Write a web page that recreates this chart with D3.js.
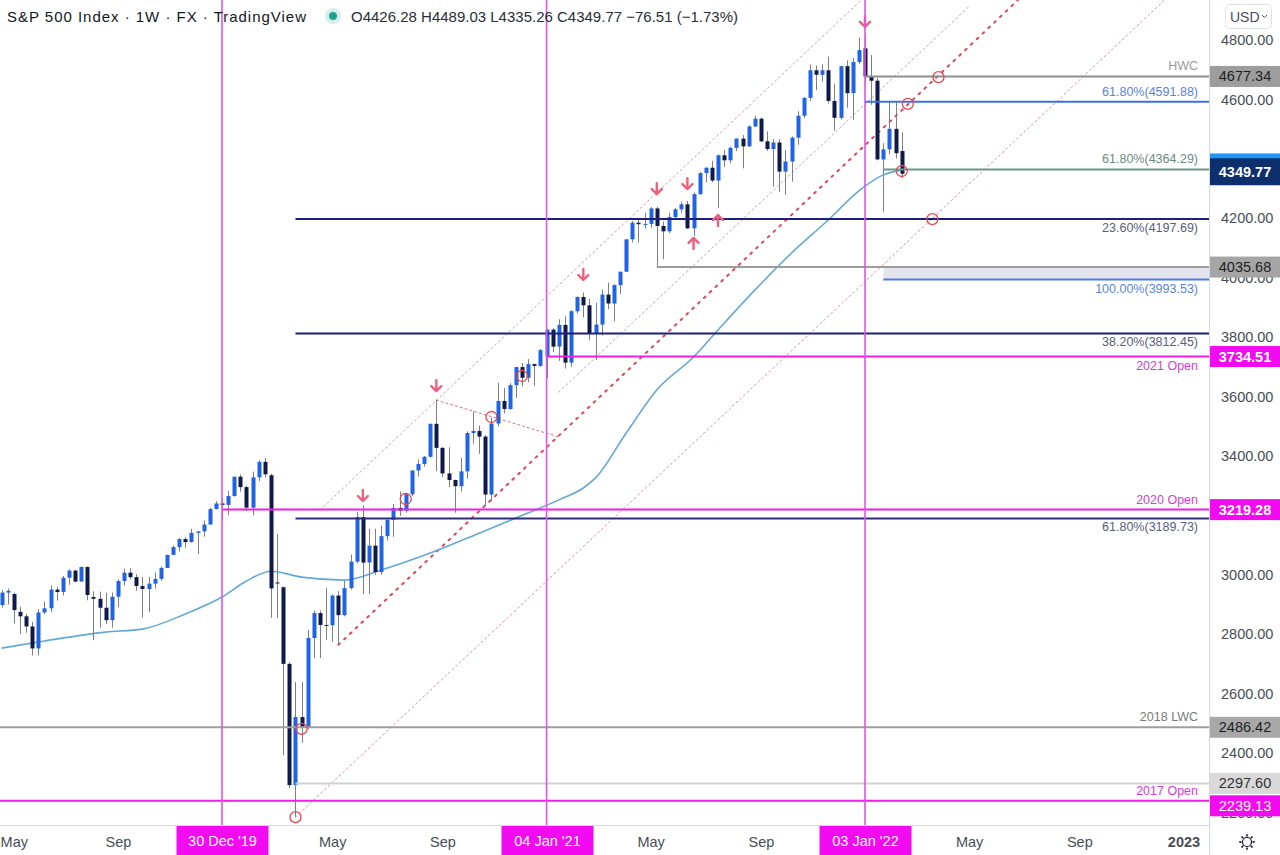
<!DOCTYPE html>
<html><head><meta charset="utf-8"><title>S&P 500 Index weekly</title>
<script src="https://cdn.jsdelivr.net/npm/d3@7/dist/d3.min.js"></script>
<style>
html,body{margin:0;padding:0;background:#fff;}
svg{display:block;font-family:"Liberation Sans",Arial,sans-serif;}
</style></head><body>
<svg id="chart" width="1280" height="855"></svg>
<script>
// ---------------- DATA ----------------
const firstWeek = "2019-04-22";
const lastWeek = "2022-02-14";
const open = [2898,2940,2935,2875,2860,2826,2752,2873,2887,2950,2942,2990,3014,2977,3026,2925,2919,2889,2847,2926,2979,3007,2992,2962,2952,2970,2986,3023,3067,3093,3120,3110,3141,3146,3169,3221,3240,
3235,3265,3330,3295,3226,3328,3380,3335,2974,2958,2700,2292,2521,2488,2787,2871,2831,2830,2930,2864,2955,3044,3194,3041,3098,3009,3130,3185,3225,3216,3271,3351,3373,3397,3508,3427,3341,3319,3298,3348,3477,3484,3465,3270,3509,3585,3558,3638,3699,3663,3709,3703,
3735,3825,3768,3841,3714,3887,3935,3907,3811,3842,3943,3913,3975,4020,4129,4185,4180,4181,4233,4174,4156,4204,4230,4247,4166,4281,4352,4370,4327,4412,4395,4437,4468,4442,4509,4535,4459,4433,4455,4357,4391,4471,4545,4605,4698,4683,4698,4595,4538,4712,4621,4726,
4772,4677,4663,4398,4432,4501,4426.28];
const high = [2949,2954,2940,2892,2868,2841,2884,2910,2964,2960,2996,3018,3017,3028,3028,2944,2943,2939,2940,2985,3021,3022,3002,2992,2993,3008,3028,3067,3098,3124,3127,3154,3147,3183,3226,3248,3258,
3282,3330,3338,3300,3347,3385,3393,3340,3137,2960,2705,2639,2639,2814,2880,2880,2955,2934,2945,2980,3068,3211,3233,3155,3155,3165,3185,3238,3280,3272,3352,3388,3400,3509,3588,3430,3429,3320,3393,3482,3550,3502,3470,3529,3646,3628,3645,3700,3713,3726,3711,3760,
3827,3830,3860,3870,3891,3937,3950,3929,3915,3960,3983,3978,4020,4129,4191,4195,4219,4238,4238,4189,4218,4234,4256,4258,4287,4355,4372,4393,4415,4429,4441,4469,4480,4513,4545,4540,4492,4466,4466,4429,4475,4560,4608,4718,4714,4718,4744,4653,4713,4731,4740,4808,
4819,4749,4672,4453,4595,4590,4489.03];
const low = [2889,2900,2836,2801,2805,2728,2729,2868,2874,2913,2930,2966,2975,2976,2914,2780,2822,2834,2822,2891,2964,2985,2946,2856,2874,2953,2980,3023,3066,3078,3091,3108,3070,3128,3169,3220,3182,
3200,3263,3280,3214,3200,3315,3328,2855,2855,2393,2282,2185,2434,2480,2720,2720,2780,2775,2765,2860,2950,3038,2935,2935,3000,3000,3115,3128,3198,3209,3265,3330,3364,3395,3349,3329,3295,3209,3280,3323,3441,3407,3233,3250,3500,3543,3555,3595,3634,3648,3636,3700,
3662,3750,3720,3694,3700,3880,3866,3789,3723,3805,3894,3853,3944,4020,4118,4118,4165,4168,4036,4062,4150,4198,4218,4164,4140,4279,4321,4322,4234,4373,4385,4426,4368,4440,4507,4456,4427,4306,4288,4279,4323,4447,4537,4595,4631,4660,4586,4495,4532,4572,4531,4720,
4650,4582,4395,4222,4415,4401,4335.26];
const close = [2940,2946,2881,2860,2826,2752,2873,2887,2950,2942,2990,3014,2977,3026,2932,2919,2889,2847,2926,2979,3007,2992,2962,2952,2970,2986,3023,3067,3093,3120,3110,3141,3146,3169,3221,3240,3235,
3265,3330,3295,3226,3328,3380,3338,2954,2972,2700,2292,2521,2488,2787,2871,2831,2830,2930,2864,2955,3044,3194,3041,3098,3009,3130,3185,3225,3216,3271,3351,3373,3397,3508,3427,3341,3319,3298,3348,3477,3484,3465,3270,3509,3585,3558,3638,3699,3663,3709,3703,3756,
3825,3768,3841,3714,3887,3935,3907,3811,3842,3943,3913,3975,4020,4129,4185,4180,4181,4233,4174,4156,4204,4230,4247,4166,4281,4352,4370,4327,4412,4395,4437,4468,4442,4509,4535,4459,4433,4455,4357,4391,4471,4545,4605,4698,4683,4698,4595,4538,4712,4621,4726,4766,
4677,4663,4398,4432,4501,4419,4349.77];

// 52-week moving average
const maDates = ["2019-04-22","2019-06-10","2019-08-19","2019-09-30","2019-11-18","2019-12-30","2020-01-27","2020-02-24","2020-03-30","2020-05-18","2020-06-29","2020-08-24","2020-10-19","2020-11-30","2021-01-18","2021-02-15","2021-03-01","2021-04-05","2021-05-10","2021-06-21","2021-07-19","2021-08-30","2021-10-11","2021-11-22","2021-12-27","2022-01-24","2022-02-14"];
const maValues = [2753,2777,2807,2817,2868,2925,2979,3012,2992,2982,3016,3073,3140,3191,3252,3292,3326,3477,3622,3733,3824,3958,4083,4194,4292,4346,4362];

// horizontal levels
const levelValues = [4677.34,4591.88,4364.29,4197.69,4035.68,3993.53,3812.45,3734.51,3219.28,3189.73,2486.42,2297.60,2239.13];
const levelNames  = ["HWC","61.80%(4591.88)","61.80%(4364.29)","23.60%(4197.69)","","100.00%(3993.53)","38.20%(3812.45)","2021 Open","2020 Open","61.80%(3189.73)","2018 LWC","","2017 Open"];
const levelStarts = ["2022-01-03","2022-01-03","2022-01-24","2020-03-23","2021-05-10","2022-01-24","2020-03-23","2021-01-04","2019-12-30","2020-03-23","2019-04-01","2020-03-23","2019-04-01"];
const bandTop = 4035.68, bandBottom = 3993.53, bandStart = "2022-01-24";

// price labels on the axis
const axisLabelValues = [4677.34,4349.77,4035.68,3734.51,3219.28,2486.42,2297.60,2239.13];

// vertical date markers
const markerDates = ["2019-12-30","2021-01-04","2022-01-03"];
const markerLabels = ["30 Dec '19","04 Jan '21","03 Jan '22"];

// axis ticks (3200.00 sits completely under the 3219.28 label)
const priceTicks = [2200,2400,2600,2800,3000,3400,3600,3800,4000,4200,4400,4600,4800];
const timeTickDates = ["2019-05-06","2019-09-02","2020-05-04","2020-09-07","2021-05-03","2021-09-06","2022-05-02","2022-09-05","2023-01-02"];
const timeTickLabels = ["May","Sep","May","Sep","May","Sep","May","Sep","2023"];

// channel / trend lines [startDate, startPrice, endDate, endPrice]
const trendLines = [
  ["2020-04-20",3218,"2021-12-30",4935],
  ["2021-01-18",3615,"2022-05-02",4913],
  ["2020-05-11",2764,"2022-06-27",4935],
  ["2020-03-23",2184,"2022-12-12",4936],
  ["2020-08-31",3588,"2021-01-18",3464]
];

// annotations
const circleDates  = ["2020-03-23","2020-03-30","2020-07-27","2020-11-02","2020-12-07","2022-02-14","2022-02-21","2022-03-28","2022-03-21"];
const circlePrices = [2184,2481,3255,3531,3669,4359,4585,4675,4197];
const arrowDates  = ["2020-06-08","2020-08-31","2021-02-15","2021-05-10","2021-06-14","2022-01-03","2021-06-21","2021-07-19"];
const arrowPrices = [3265,3635,4009,4298,4315,4861,4117,4194];
const arrowDirs   = ["down","down","down","down","down","down","up","up"];

const header = "S&P 500 Index · 1W · FX · TradingView";
const ohlcText = "O4426.28 H4489.03 L4335.26 C4349.77 −76.51 (−1.73%)";

// ---------------- DRAW ----------------
const parse = d3.utcParse("%Y-%m-%d");
const dates = d3.utcMonday.range(parse(firstWeek), d3.utcDay.offset(parse(lastWeek), 1));
const candles = dates.map((d, i) => ({d, o: open[i], h: high[i], l: low[i], c: close[i]}));

const svg = d3.select("#chart");
const plotR = 1209, plotB = 825;
const x = d3.scaleUtc().domain([parse("2019-12-30"), parse("2022-01-03")]).range([222, 865]);
const y = d3.scaleLinear().domain([2400, 4800]).range([753, 40]);
const px = d => Math.round(x(d)) + 0.5;

svg.append("rect").attr("width", 1280).attr("height", 855).attr("fill", "#fff");
const defs = svg.append("defs");
defs.append("clipPath").attr("id", "plotclip")
  .append("rect").attr("x", 0).attr("y", 0).attr("width", plotR).attr("height", plotB);
const plot = svg.append("g").attr("clip-path", "url(#plotclip)");

// band
plot.append("rect")
  .attr("x", x(parse(bandStart))).attr("y", y(bandTop))
  .attr("width", plotR - x(parse(bandStart))).attr("height", y(bandBottom) - y(bandTop))
  .attr("fill", "#e4e4ee");

// trend lines
const tlStyle = [
  {c: "#de9ea8", w: 1, dash: "2,3"},
  {c: "#bba9ae", w: 1, dash: "2,3"},
  {c: "#e0455c", w: 2, dash: "2,6"},
  {c: "#e3949f", w: 1, dash: "2,3"},
  {c: "#e56b7e", w: 1, dash: "2,3"}
];
plot.selectAll("line.tl").data(trendLines).join("line").attr("class", "tl")
  .attr("x1", d => x(parse(d[0]))).attr("y1", d => y(d[1]))
  .attr("x2", d => x(parse(d[2]))).attr("y2", d => y(d[3]))
  .attr("stroke", (d, i) => tlStyle[i].c).attr("stroke-width", (d, i) => tlStyle[i].w)
  .attr("stroke-dasharray", (d, i) => tlStyle[i].dash).attr("stroke-linecap", "round");

// moving average
const maLine = d3.line().x((d, i) => x(parse(maDates[i]))).y(d => y(d)).curve(d3.curveMonotoneX);
plot.append("path").attr("d", maLine(maValues)).attr("fill", "none")
  .attr("stroke", "#62a9d8").attr("stroke-width", 1.6);

// candles
const bw = 4;
const cg = plot.append("g");
cg.selectAll("line.wick").data(candles).join("line").attr("class", "wick")
  .attr("x1", d => px(d.d)).attr("x2", d => px(d.d))
  .attr("y1", d => y(d.h)).attr("y2", d => y(d.l))
  .attr("stroke", "#7d7f86").attr("stroke-width", 1);
cg.selectAll("rect.body").data(candles).join("rect").attr("class", "body")
  .attr("x", d => px(d.d) - bw / 2)
  .attr("y", d => y(Math.max(d.o, d.c)))
  .attr("width", bw)
  .attr("height", d => Math.max(1, Math.abs(y(d.o) - y(d.c))))
  .attr("fill", d => d.c >= d.o ? "#1f63e6" : "#0f1a4a");

// level lines
const lvStyle = [
  {c: "#8e8e8e", t: "#9a9a9a", pos: "above"},
  {c: "#3c6fe6", t: "#5a82df", pos: "above"},
  {c: "#6b968a", t: "#6c8b84", pos: "above"},
  {c: "#1e1f7c", t: "#5b5d7c", pos: "below"},
  {c: "#9c9c9c", t: "#999", pos: "above"},
  {c: "#4d7be0", t: "#5a86e0", pos: "below"},
  {c: "#1e1f7c", t: "#5b5d7c", pos: "below"},
  {c: "#ee1ee6", t: "#d93ad4", pos: "below"},
  {c: "#ee1ee6", t: "#d93ad4", pos: "above"},
  {c: "#2e2e78", t: "#5b5d7c", pos: "below"},
  {c: "#9e9e9e", t: "#7a7a7a", pos: "above"},
  {c: "#d2d2d2", t: "#999", pos: "above"},
  {c: "#ee1ee6", t: "#d93ad4", pos: "above"}
];
plot.selectAll("line.lv").data(levelValues).join("line").attr("class", "lv")
  .attr("x1", (d, i) => Math.max(0, x(parse(levelStarts[i])))).attr("x2", plotR)
  .attr("y1", d => y(d)).attr("y2", d => y(d))
  .attr("stroke", (d, i) => lvStyle[i].c).attr("stroke-width", 2);
plot.selectAll("text.lv").data(levelValues).join("text").attr("class", "lv")
  .attr("x", 1198).attr("y", (d, i) => lvStyle[i].pos === "above" ? y(d) - 6 : y(d) + 13)
  .attr("text-anchor", "end").attr("font-size", 12.5)
  .attr("fill", (d, i) => lvStyle[i].t).text((d, i) => levelNames[i]);

// circles
plot.selectAll("circle.mk").data(circlePrices).join("circle").attr("class", "mk")
  .attr("cx", (d, i) => x(parse(circleDates[i]))).attr("cy", d => y(d)).attr("r", 5.5)
  .attr("fill", "none").attr("stroke", "#e5484d").attr("stroke-width", 1.3);

// arrows
plot.selectAll("path.ar").data(arrowPrices).join("path").attr("class", "ar")
  .attr("transform", (d, i) => `translate(${x(parse(arrowDates[i]))},${y(d)})${arrowDirs[i] === "up" ? " rotate(180)" : ""}`)
  .attr("d", "M0,-6 L0,5 M-5,0 L0,5 L5,0")
  .attr("fill", "none").attr("stroke", "#f0607c").attr("stroke-width", 2.4)
  .attr("stroke-linecap", "round").attr("stroke-linejoin", "round");

// vertical date markers (on top of everything in the plot)
const vg = svg.append("g").attr("class", "vmarkers");
vg.selectAll("rect").data(markerDates).join("rect")
  .attr("x", d => x(parse(d)) - 0.8).attr("y", 0)
  .attr("width", 1.6).attr("height", plotB)
  .attr("fill", "#e552ea");

// header
svg.append("text").attr("x", 7).attr("y", 22).attr("font-size", 15).attr("fill", "#131722")
  .attr("textLength", 299).attr("lengthAdjust", "spacing").text(header);
svg.append("circle").attr("cx", 333).attr("cy", 16).attr("r", 8).attr("fill", "rgba(38,166,154,0.18)");
svg.append("circle").attr("cx", 333).attr("cy", 16).attr("r", 4).attr("fill", "#22a38f");
svg.append("text").attr("x", 351).attr("y", 22).attr("font-size", 15).attr("fill", "#2a2e39").text(ohlcText);

// axes separators
svg.append("line").attr("x1", plotR + 0.5).attr("x2", plotR + 0.5).attr("y1", 0).attr("y2", 855).attr("stroke", "#d6d8de");
svg.append("line").attr("x1", 0).attr("x2", plotR).attr("y1", plotB + 0.5).attr("y2", plotB + 0.5).attr("stroke", "#d6d8de");

// right price axis
const yAxis = d3.axisRight(y).tickValues(priceTicks).tickFormat(d3.format(".2f")).tickSize(0).tickPadding(12);
const ya = svg.append("g").attr("transform", `translate(${plotR},0)`).call(yAxis);
ya.select(".domain").remove();
ya.selectAll("text").attr("font-size", 14.5).attr("fill", "#4a4d55").attr("font-family", "Liberation Sans, Arial, sans-serif");

// bottom time axis
const xAxis = d3.axisBottom(x).tickValues(timeTickDates.map(parse))
  .tickFormat((d, i) => timeTickLabels[i]).tickSize(0).tickPadding(12);
const xa = svg.append("g").attr("transform", `translate(0,${plotB})`).call(xAxis);
xa.select(".domain").remove();
xa.selectAll("text").attr("font-size", 14.5).attr("fill", "#4a4d55").attr("font-family", "Liberation Sans, Arial, sans-serif")
  .attr("font-weight", (d, i) => timeTickLabels[i] === "2023" ? "bold" : null);

// date marker boxes
const mb = svg.selectAll("g.mb").data(markerDates).join("g").attr("class", "mb")
  .attr("transform", d => `translate(${px(parse(d))},${plotB + 1})`);
mb.append("rect").attr("x", -46).attr("y", 0).attr("width", 92).attr("height", 30).attr("fill", "#f20af0");
mb.append("text").attr("y", 20).attr("text-anchor", "middle").attr("font-size", 14.5).attr("fill", "#fff")
  .text((d, i) => markerLabels[i]);

// price labels on axis
const plStyle = {
  4677.34: {bg: "#9d9d9d", fg: "#1e1e1e", dy: 0},
  4349.77: {bg: "#0e2f6e", fg: "#ffffff", dy: -2, h: 27, bold: true},
  4035.68: {bg: "#a5a5a5", fg: "#1e1e1e", dy: 0},
  3734.51: {bg: "#f20af0", fg: "#ffffff", dy: 0, bold: true},
  3219.28: {bg: "#f20af0", fg: "#ffffff", dy: 0, bold: true},
  2486.42: {bg: "#a8a8a8", fg: "#1e1e1e", dy: 0},
  2297.60: {bg: "#d9d9d9", fg: "#333", dy: 0},
  2239.13: {bg: "#f20af0", fg: "#ffffff", dy: 5}
};
// light blue label partly hidden under the last-price label
svg.append("rect").attr("x", plotR + 1).attr("y", y(4364.29) - 16).attr("width", 1280 - plotR).attr("height", 10).attr("fill", "#2196f3");
const pl = svg.selectAll("g.pl").data(axisLabelValues).join("g").attr("class", "pl")
  .attr("transform", d => `translate(${plotR + 1},${y(d) + plStyle[d].dy})`);
pl.append("rect").attr("x", 0).attr("y", d => -(plStyle[d].h || 21) / 2).attr("width", 1280 - plotR)
  .attr("height", d => plStyle[d].h || 21).attr("fill", d => plStyle[d].bg);
pl.append("text").attr("x", 35).attr("y", 5).attr("text-anchor", "middle").attr("font-size", 14.5)
  .attr("font-weight", d => plStyle[d].bold ? "bold" : null)
  .attr("fill", d => plStyle[d].fg).text(d => d3.format(".2f")(d));

// USD button
svg.append("rect").attr("x", 1225.5).attr("y", 4.5).attr("width", 46).attr("height", 24).attr("rx", 4)
  .attr("fill", "#fff").attr("stroke", "#e0e3eb");
svg.append("text").attr("x", 1230).attr("y", 22).attr("font-size", 14).attr("fill", "#4a4d55").text("USD");
svg.append("path").attr("d", "M1262,15 L1264.5,17.5 L1267,15").attr("fill", "none").attr("stroke", "#4a4d55").attr("stroke-width", 1);

// gear icon
const gear = svg.append("g").attr("transform", "translate(1247,842)");
gear.append("circle").attr("r", 4.5).attr("fill", "none").attr("stroke", "#131722").attr("stroke-width", 1.2);
gear.selectAll("line").data(d3.range(8)).join("line")
  .attr("x1", d => 5.5 * Math.cos(d * Math.PI / 4)).attr("y1", d => 5.5 * Math.sin(d * Math.PI / 4))
  .attr("x2", d => 7.8 * Math.cos(d * Math.PI / 4)).attr("y2", d => 7.8 * Math.sin(d * Math.PI / 4))
  .attr("stroke", "#131722").attr("stroke-width", 1.6);
</script>
</body></html>
